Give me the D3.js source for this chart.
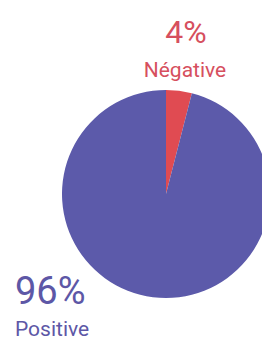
<!DOCTYPE html>
<html>
<head>
<meta charset="utf-8">
<script src="https://cdn.jsdelivr.net/npm/d3@7"></script>
<style>
  body { margin: 0; background: #fff; }
  text { font-family: Roboto, "Noto Sans", sans-serif; }
</style>
</head>
<body>
<div id="container"></div>
<script>
// sentiment shares
var labels = ["Négative", "Positive"];
var values = [4, 96];
var colours = ["#e04b52", "#5c5aaa"];
var textColours = ["#d64f5e", "#5d57a6"];

var width = 262;
var height = 340;
var radius = 104;
var cx = 166;
var cy = 194;

var svg = d3.select("#container")
  .append("svg")
  .attr("width", width)
  .attr("height", height);

var pie = d3.pie().sort(null).value(function(d) { return d; });
var arc = d3.arc().innerRadius(0).outerRadius(radius);

var slices = pie(values);

svg.append("g")
  .attr("transform", "translate(" + cx + "," + cy + ")")
  .selectAll("path")
  .data(slices)
  .enter()
  .append("path")
  .attr("d", arc)
  .style("fill", function(d, i) { return colours[i]; });

// labels: percentage above the name
var labelPos = [
  { x: 186, y: 43, anchor: "middle", big: 32, gap: 34 },
  { x: 15, y: 304, anchor: "start", big: 38, gap: 32 }
];

labelPos.forEach(function(p, i) {
  var total = d3.sum(values);
  svg.append("text")
    .attr("x", p.x)
    .attr("y", p.y)
    .attr("text-anchor", p.anchor)
    .style("font-size", p.big + "px")
    .style("fill", textColours[i])
    .text(Math.round(values[i] / total * 100) + "%");
  svg.append("text")
    .attr("x", p.anchor == "middle" ? p.x - 1 : p.x)
    .attr("y", p.y + p.gap)
    .attr("text-anchor", p.anchor)
    .style("font-size", "21px")
    .style("fill", textColours[i])
    .text(labels[i]);
});
</script>
</body>
</html>
